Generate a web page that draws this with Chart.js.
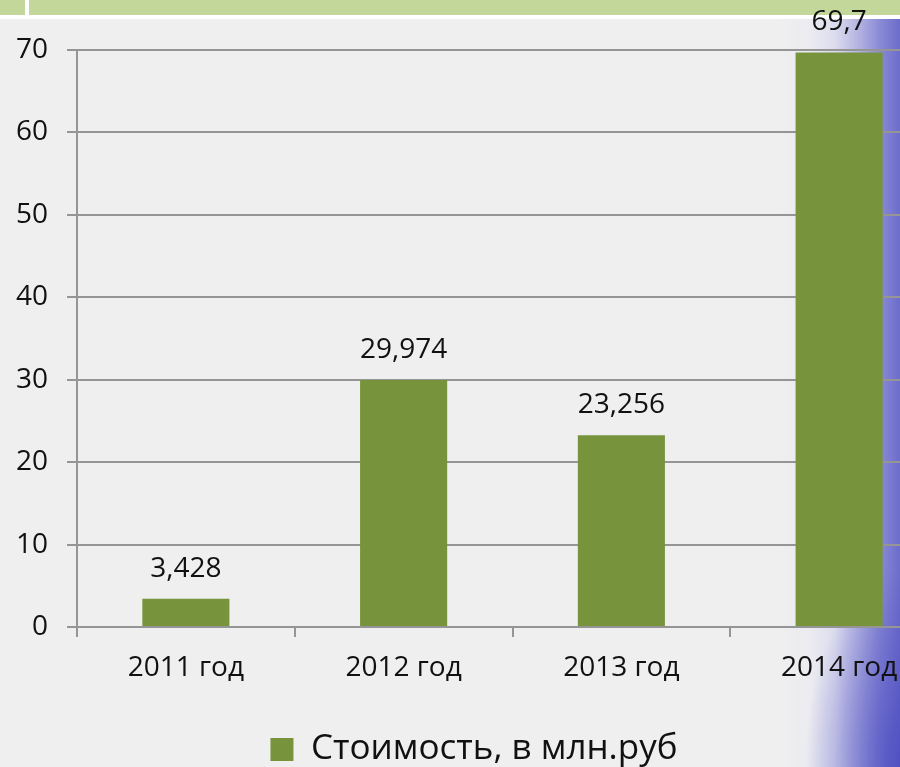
<!DOCTYPE html>
<html lang="ru">
<head>
<meta charset="utf-8">
<title>Стоимость, в млн.руб</title>
<script src="https://cdn.jsdelivr.net/npm/chart.js@4.4.1/dist/chart.umd.min.js"></script>
<style>
  html, body {
    margin: 0;
    padding: 0;
    width: 900px;
    height: 767px;
    overflow: hidden;
    background: #efefef;
  }
  /* фон слайда: светло-серый с синим краем справа */
  .slide-bg {
    position: absolute;
    left: 0;
    top: 0;
    width: 900px;
    height: 767px;
    background-image:
      radial-gradient(ellipse 100px 200px at 905px 767px, rgba(72, 72, 192, 0.8), rgba(72, 72, 192, 0)),
      linear-gradient(to right, #efefef 0px, #efefef 780px, #ebebf1 810px, #dcdcee 835px, #b4b4e2 858px, #8a8ad6 880px, #6c6cca 900px);
    background-repeat: no-repeat;
  }
  /* зелёная полоса заголовка слайда */
  .top-strip {
    position: absolute;
    left: 0;
    top: 0;
    width: 900px;
    height: 15px;
    background: #c4d79b;
    border-bottom: 4px solid #ffffff;
  }
  .top-strip .gap {
    position: absolute;
    left: 25px;
    top: 0;
    width: 4px;
    height: 15px;
    background: #ffffff;
  }
  .chart-box {
    position: absolute;
    left: 0;
    top: 0;
    width: 960px;
    height: 780px;
  }
</style>
</head>
<body>
<div class="slide-bg"></div>
<div class="top-strip"><div class="gap"></div></div>
<div class="chart-box"><canvas id="costChart"></canvas></div>
<script>
  // Данные диаграммы
  const years = ['2011 год', '2012 год', '2013 год', '2014 год'];
  const costValues = [3.428, 29.974, 23.256, 69.7];
  const seriesName = 'Стоимость, в млн.руб';
  const yTicks = [0, 10, 20, 30, 40, 50, 60, 70];

  const barColor = '#77933c';
  const gridColor = '#959595';
  const textColor = '#111111';
  const fontFamily = "'Open Sans', 'DejaVu Sans', sans-serif";

  // Подписи значений над столбцами
  const valueLabels = {
    id: 'valueLabels',
    afterDatasetsDraw(chart) {
      const ctx = chart.ctx;
      const meta = chart.getDatasetMeta(0);
      ctx.save();
      ctx.font = `28px ${fontFamily}`;
      ctx.fillStyle = textColor;
      ctx.textAlign = 'center';
      ctx.textBaseline = 'middle';
      meta.data.forEach((bar, i) => {
        const text = String(chart.data.datasets[0].data[i]).replace('.', ',');
        ctx.fillText(text, bar.x, bar.y - 30);
      });
      ctx.restore();
    }
  };

  const ctx = document.getElementById('costChart').getContext('2d');
  new Chart(ctx, {
    type: 'bar',
    data: {
      labels: years,
      datasets: [{
        label: seriesName,
        data: costValues,
        backgroundColor: barColor,
        borderWidth: 0,
        barPercentage: 0.4,
        categoryPercentage: 1.0
      }]
    },
    options: {
      responsive: true,
      maintainAspectRatio: false,
      animation: false,
      layout: {
        padding: { top: 50, right: 12, bottom: 3, left: 0 }
      },
      plugins: {
        tooltip: { enabled: false },
        legend: {
          position: 'bottom',
          labels: {
            color: textColor,
            boxWidth: 23,
            boxHeight: 23,
            padding: 10,
            font: { family: fontFamily, size: 35 }
          }
        }
      },
      scales: {
        x: {
          afterFit(scale) { scale.height = 95; },
          grid: {
            display: true,
            drawOnChartArea: false,
            drawTicks: true,
            tickLength: 10,
            color: gridColor,
            lineWidth: 2
          },
          border: { display: true, color: gridColor, width: 2 },
          ticks: {
            color: textColor,
            padding: 14,
            font: { family: fontFamily, size: 28 }
          }
        },
        y: {
          min: 0,
          max: 70,
          afterFit(scale) { scale.width = 77; },
          afterBuildTicks(scale) {
            scale.ticks = yTicks.map(v => ({ value: v }));
          },
          grid: {
            color: gridColor,
            lineWidth: 2,
            tickLength: 10
          },
          border: { display: true, color: gridColor, width: 2 },
          ticks: {
            color: textColor,
            padding: 19,
            font: { family: fontFamily, size: 28 }
          }
        }
      }
    },
    plugins: [valueLabels]
  });
</script>
</body>
</html>
